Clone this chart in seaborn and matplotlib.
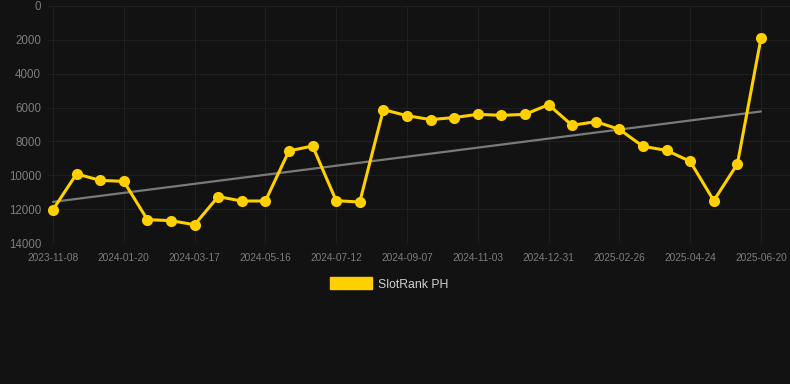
import matplotlib
matplotlib.use("Agg")
import matplotlib.pyplot as plt
from matplotlib.patches import Patch
import seaborn as sns
import numpy as np
import pandas as pd

# SlotRank PH - rank over time (lower is better, axis inverted)
dates = ["2023-11-08", "2023-12-02", "2023-12-26", "2024-01-20", "2024-02-08", "2024-02-27",
         "2024-03-17", "2024-04-06", "2024-04-26", "2024-05-16", "2024-06-04", "2024-06-23",
         "2024-07-12", "2024-07-31", "2024-08-19", "2024-09-07", "2024-09-26", "2024-10-15",
         "2024-11-03", "2024-11-22", "2024-12-11", "2024-12-31", "2025-01-19", "2025-02-07",
         "2025-02-26", "2025-03-17", "2025-04-05", "2025-04-24", "2025-05-13", "2025-06-01",
         "2025-06-20"]
rank = [12030, 9920, 10300, 10360, 12620, 12680, 12920, 11260, 11520, 11520, 8560, 8270,
        11500, 11580, 6120, 6480, 6710, 6590, 6400, 6460, 6400, 5830, 7050, 6830,
        7290, 8290, 8530, 9180, 11500, 9330, 1910]
y_ticks = [0, 2000, 4000, 6000, 8000, 10000, 12000, 14000]

bg = "#121212"
yellow = "#FFD000"
grid_c = "#1f1f1f"

sns.set_style("dark", rc={"axes.facecolor": bg, "figure.facecolor": bg,
                          "grid.color": grid_c, "axes.edgecolor": bg})
plt.rcParams["font.family"] = ["Liberation Sans", "DejaVu Sans"]

df = pd.DataFrame({"idx": np.arange(len(dates)), "date": dates, "rank": rank})

fig = plt.figure(figsize=(7.9, 3.84), dpi=100)
ax = fig.add_axes([48 / 790, (384 - 243) / 384, 742 / 790, 237 / 384])

# trend line (linear fit)
coef = np.polyfit(df["idx"], df["rank"], 1)
df["trend"] = np.polyval(coef, df["idx"])
sns.lineplot(data=df, x="idx", y="trend", color="#7a7a7a", linewidth=1.6, ax=ax)

sns.lineplot(data=df, x="idx", y="rank", color=yellow, linewidth=2.2, marker="o",
             markersize=8, markeredgewidth=0, ax=ax)

ax.set_xlim(-0.21, 31.23)
ax.set_ylim(14000, 0)
ax.set_yticks(y_ticks)
ax.set_yticklabels([str(v) for v in y_ticks])
ax.set_xticks(df["idx"][::3])
ax.set_xticklabels(df["date"][::3])
ax.grid(True, color=grid_c, linewidth=0.8)
ax.tick_params(axis="x", colors="#262626", labelcolor="#7d7d7d", labelsize=7.3,
               length=4, width=0.8, pad=3)
ax.tick_params(axis="y", colors=bg, labelcolor="#7d7d7d", labelsize=8.3, length=0, pad=5)
ax.set_xlabel("")
ax.set_ylabel("")
for s in ax.spines.values():
    s.set_visible(False)

handle = Patch(facecolor=yellow, edgecolor=yellow, label="SlotRank PH")
fig.legend(handles=[handle], loc="center", bbox_to_anchor=(389 / 790, 1 - 284 / 384),
           frameon=False, fontsize=8.8, labelcolor="#d0d0d0", handlelength=3.4,
           handleheight=1.1, handletextpad=0.5)

fig.savefig("out.png", dpi=100, facecolor=bg)
